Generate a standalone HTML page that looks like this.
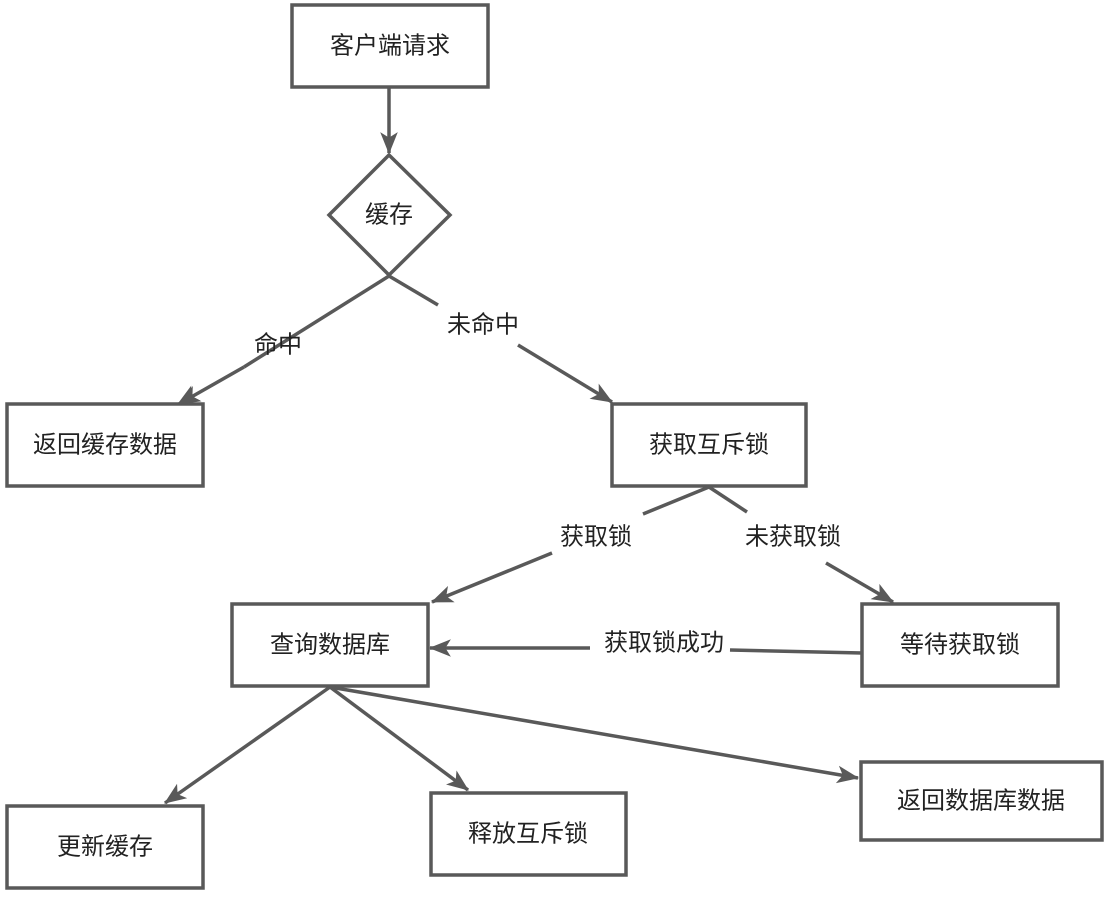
<!DOCTYPE html>
<html><head><meta charset="utf-8"><style>
html,body{margin:0;padding:0;background:#fff;}
svg text{font-family:"Liberation Sans","Noto Sans CJK SC",sans-serif;font-size:24px;fill:#222;}
</style></head><body>
<svg width="1110" height="894" viewBox="0 0 1110 894" xmlns="http://www.w3.org/2000/svg">
<defs>
<marker id="a" markerWidth="10" markerHeight="10" refX="8" refY="5" orient="auto" markerUnits="userSpaceOnUse" viewBox="0 0 10 10">
</marker>
<marker id="ar" viewBox="0 0 20 16" refX="19" refY="8" markerWidth="22" markerHeight="18" orient="auto" markerUnits="userSpaceOnUse">
<path d="M0,0 L20,8 L0,16 L5,8 Z" fill="#595959"/>
</marker>
</defs>
<g fill="none" stroke="#595959" stroke-width="3.5">
<rect x="292" y="5" width="196" height="82"/>
<polygon points="389,155 450,215 389,275 329,215"/>
<rect x="7" y="404" width="196" height="82"/>
<rect x="612" y="404" width="194" height="82"/>
<rect x="232" y="604" width="196" height="82"/>
<rect x="862" y="604" width="196" height="82"/>
<rect x="7" y="806" width="196" height="82"/>
<rect x="431" y="793" width="195" height="82"/>
<rect x="861" y="762" width="241" height="78"/>
</g>
<g fill="none" stroke="#595959" stroke-width="3.5">
<line x1="389" y1="88" x2="389" y2="153" marker-end="url(#ar)"/>
<line x1="389" y1="276" x2="244" y2="367"/>
<line x1="183" y1="404" x2="183" y2="404"/>
<line x1="312" y1="322" x2="178" y2="404" marker-end="url(#ar)" stroke-opacity="0"/>
<line x1="244" y1="367" x2="179" y2="404" marker-end="url(#ar)"/>
<line x1="389" y1="276" x2="438" y2="305"/>
<line x1="518" y1="345" x2="612" y2="402" marker-end="url(#ar)"/>
<line x1="709" y1="487" x2="643" y2="514"/>
<line x1="552" y1="553" x2="432" y2="602" marker-end="url(#ar)"/>
<line x1="709" y1="487" x2="747" y2="512"/>
<line x1="826" y1="563" x2="893" y2="602" marker-end="url(#ar)"/>
<line x1="862" y1="653" x2="730" y2="650"/>
<line x1="590" y1="648" x2="430" y2="648" marker-end="url(#ar)"/>
<line x1="330" y1="687" x2="165" y2="803" marker-end="url(#ar)"/>
<line x1="330" y1="687" x2="468" y2="790" marker-end="url(#ar)"/>
<line x1="330" y1="687" x2="858" y2="778" marker-end="url(#ar)"/>
</g>
<g text-anchor="middle" dominant-baseline="central">
<text x="390" y="46">客户端请求</text>
<text x="389" y="215">缓存</text>
<text x="105" y="445">返回缓存数据</text>
<text x="709" y="445">获取互斥锁</text>
<text x="330" y="645">查询数据库</text>
<text x="960" y="645">等待获取锁</text>
<text x="105" y="847">更新缓存</text>
<text x="528" y="834">释放互斥锁</text>
<text x="981" y="801">返回数据库数据</text>
<text x="278" y="345">命中</text>
<text x="483" y="325">未命中</text>
<text x="596" y="537">获取锁</text>
<text x="793" y="537">未获取锁</text>
<text x="664" y="643">获取锁成功</text>
</g>
</svg>
</body></html>
